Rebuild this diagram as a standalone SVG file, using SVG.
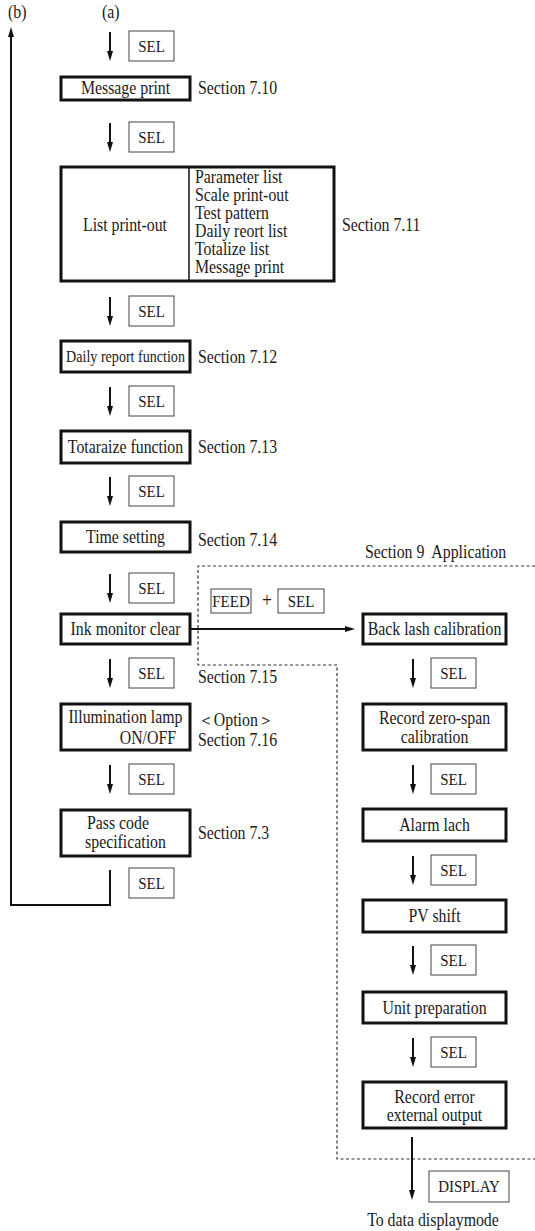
<svg xmlns="http://www.w3.org/2000/svg" width="535" height="1231" viewBox="0 0 535 1231">
<style>
text{font-family:"Liberation Serif","Times New Roman",serif;font-size:18px;fill:#1a1a1a;transform-box:fill-box;transform-origin:50% 50%;transform:scaleX(.88)}
.m{text-anchor:middle}
.s{text-anchor:start;transform-origin:0 50%}
.e{text-anchor:end;transform-origin:100% 50%}
.k{font-size:17px}
.sm{font-size:16px}
.box{fill:#fff;stroke:#111;stroke-width:3}
.key{fill:#fff;stroke:#444;stroke-width:1}
.ln{fill:none;stroke:#111;stroke-width:2}
.dash{fill:none;stroke:#333;stroke-width:1.2;stroke-dasharray:3 2.5}
</style>
<defs>
<marker id="ah" markerUnits="userSpaceOnUse" markerWidth="10" markerHeight="6" refX="2" refY="3" orient="auto">
<path d="M0,0 L10,3 L0,6 z" fill="#111"/>
</marker>
</defs>

<g id="labels">
<text class="s" x="8" y="18">(b)</text>
<text class="s" x="102" y="18">(a)</text>
</g>

<g id="region-app">
<path class="dash" d="M535,566 H198 V665 H337 V1159 H535"/>
<text class="s" x="365" y="558">Section 9&#160; Application</text>
</g>

<g id="connectors">
<line class="ln" x1="110" y1="32" x2="110" y2="53" marker-end="url(#ah)"/>
<line class="ln" x1="110" y1="123" x2="110" y2="144" marker-end="url(#ah)"/>
<line class="ln" x1="110" y1="297" x2="110" y2="318" marker-end="url(#ah)"/>
<line class="ln" x1="110" y1="387" x2="110" y2="408" marker-end="url(#ah)"/>
<line class="ln" x1="110" y1="477" x2="110" y2="498" marker-end="url(#ah)"/>
<line class="ln" x1="110" y1="574" x2="110" y2="595" marker-end="url(#ah)"/>
<line class="ln" x1="110" y1="659" x2="110" y2="680" marker-end="url(#ah)"/>
<line class="ln" x1="110" y1="765" x2="110" y2="786" marker-end="url(#ah)"/>
<path class="ln" d="M110,870 V905 H11 V35" marker-end="url(#ah)"/>
<line class="ln" x1="190" y1="629" x2="347" y2="629" marker-end="url(#ah)"/>
<line class="ln" x1="413" y1="659" x2="413" y2="680" marker-end="url(#ah)"/>
<line class="ln" x1="413" y1="765" x2="413" y2="786" marker-end="url(#ah)"/>
<line class="ln" x1="413" y1="856" x2="413" y2="877" marker-end="url(#ah)"/>
<line class="ln" x1="413" y1="946" x2="413" y2="967" marker-end="url(#ah)"/>
<line class="ln" x1="413" y1="1038" x2="413" y2="1059" marker-end="url(#ah)"/>
<line class="ln" x1="412" y1="1137" x2="412" y2="1192" marker-end="url(#ah)"/>
</g>

<g id="keys">
<g id="sel1"><rect class="key" x="129" y="31" width="45" height="30"/><text class="m k" x="151.5" y="52">SEL</text></g>
<g id="sel2"><rect class="key" x="129" y="122" width="45" height="30"/><text class="m k" x="151.5" y="143">SEL</text></g>
<g id="sel3"><rect class="key" x="129" y="296" width="45" height="30"/><text class="m k" x="151.5" y="317">SEL</text></g>
<g id="sel4"><rect class="key" x="129" y="386" width="45" height="30"/><text class="m k" x="151.5" y="407">SEL</text></g>
<g id="sel5"><rect class="key" x="129" y="476" width="45" height="30"/><text class="m k" x="151.5" y="497">SEL</text></g>
<g id="sel6"><rect class="key" x="129" y="573" width="45" height="30"/><text class="m k" x="151.5" y="594">SEL</text></g>
<g id="sel7"><rect class="key" x="129" y="658" width="45" height="30"/><text class="m k" x="151.5" y="679">SEL</text></g>
<g id="sel8"><rect class="key" x="129" y="764" width="45" height="30"/><text class="m k" x="151.5" y="785">SEL</text></g>
<g id="sel9"><rect class="key" x="129" y="868" width="45" height="30"/><text class="m k" x="151.5" y="889">SEL</text></g>
<g id="feed"><rect class="key" x="211" y="589" width="40" height="24"/><text class="m k" x="231" y="607">FEED</text></g>
<text class="m" x="267" y="607" style="font-size:20px">+</text>
<g id="sel-feed"><rect class="key" x="278" y="589" width="46" height="24"/><text class="m k" x="301" y="607">SEL</text></g>
<g id="sel-r1"><rect class="key" x="431" y="658" width="45" height="30"/><text class="m k" x="453.5" y="679">SEL</text></g>
<g id="sel-r2"><rect class="key" x="431" y="764" width="45" height="30"/><text class="m k" x="453.5" y="785">SEL</text></g>
<g id="sel-r3"><rect class="key" x="431" y="855" width="45" height="30"/><text class="m k" x="453.5" y="876">SEL</text></g>
<g id="sel-r4"><rect class="key" x="431" y="945" width="45" height="30"/><text class="m k" x="453.5" y="966">SEL</text></g>
<g id="sel-r5"><rect class="key" x="431" y="1037" width="45" height="30"/><text class="m k" x="453.5" y="1058">SEL</text></g>
<g id="display"><rect class="key" x="429" y="1171" width="80" height="31"/><text class="m k" x="469" y="1192">DISPLAY</text></g>
</g>

<g id="message-print">
<rect class="box" x="61" y="77" width="129" height="23"/>
<text class="m" x="125.5" y="94">Message print</text>
<text class="s" x="198" y="94">Section 7.10</text>
</g>

<g id="list-printout">
<rect class="box" x="61" y="167" width="273" height="114"/>
<line x1="189" y1="167" x2="189" y2="281" stroke="#111" stroke-width="1.5"/>
<text class="m" x="125" y="231">List print-out</text>
<text class="s" x="195" y="183">Parameter list</text>
<text class="s" x="195" y="201">Scale print-out</text>
<text class="s" x="195" y="219">Test pattern</text>
<text class="s" x="195" y="237">Daily reort list</text>
<text class="s" x="195" y="255">Totalize list</text>
<text class="s" x="195" y="273">Message print</text>
<text class="s" x="342" y="231">Section 7.11</text>
</g>

<g id="daily-report">
<rect class="box" x="61" y="341" width="129" height="31"/>
<text class="m sm" x="125.5" y="362">Daily report function</text>
<text class="s" x="198" y="363">Section 7.12</text>
</g>

<g id="totalize">
<rect class="box" x="61" y="431" width="129" height="32"/>
<text class="m" x="125.5" y="453">Totaraize function</text>
<text class="s" x="198" y="453">Section 7.13</text>
</g>

<g id="time-setting">
<rect class="box" x="61" y="522" width="129" height="30"/>
<text class="m" x="125.5" y="543">Time setting</text>
<text class="s" x="198" y="546">Section 7.14</text>
</g>

<g id="ink-monitor">
<rect class="box" x="61" y="614" width="129" height="30"/>
<text class="m" x="125.5" y="635">Ink monitor clear</text>
<text class="s" x="198" y="683">Section 7.15</text>
</g>

<g id="illumination">
<rect class="box" x="61" y="704" width="129" height="46"/>
<text class="m" x="125.5" y="723">Illumination lamp</text>
<text class="e" x="176" y="744">ON/OFF</text>
<text class="s" x="198" y="726">＜Option＞</text>
<text class="s" x="198" y="746">Section 7.16</text>
</g>

<g id="pass-code">
<rect class="box" x="61" y="810" width="129" height="46"/>
<text class="m" x="118" y="829">Pass code</text>
<text class="m" x="125.5" y="848">specification</text>
<text class="s" x="198" y="839">Section 7.3</text>
</g>

<g id="back-lash">
<rect class="box" x="363" y="614" width="143" height="30"/>
<text class="m" x="434.5" y="635">Back lash calibration</text>
</g>

<g id="zero-span">
<rect class="box" x="363" y="704" width="143" height="46"/>
<text class="m" x="434.5" y="724">Record zero-span</text>
<text class="m" x="434.5" y="743">calibration</text>
</g>

<g id="alarm-lach">
<rect class="box" x="363" y="809" width="143" height="32"/>
<text class="m" x="434.5" y="831">Alarm lach</text>
</g>

<g id="pv-shift">
<rect class="box" x="363" y="900" width="143" height="32"/>
<text class="m" x="434.5" y="922">PV shift</text>
</g>

<g id="unit-prep">
<rect class="box" x="363" y="992" width="143" height="31"/>
<text class="m" x="434.5" y="1014">Unit preparation</text>
</g>

<g id="record-error">
<rect class="box" x="363" y="1082" width="143" height="46"/>
<text class="m" x="434.5" y="1103">Record error</text>
<text class="m" x="434.5" y="1121">external output</text>
</g>

<g id="to-data">
<text class="m" x="433" y="1226">To data displaymode</text>
</g>
</svg>
